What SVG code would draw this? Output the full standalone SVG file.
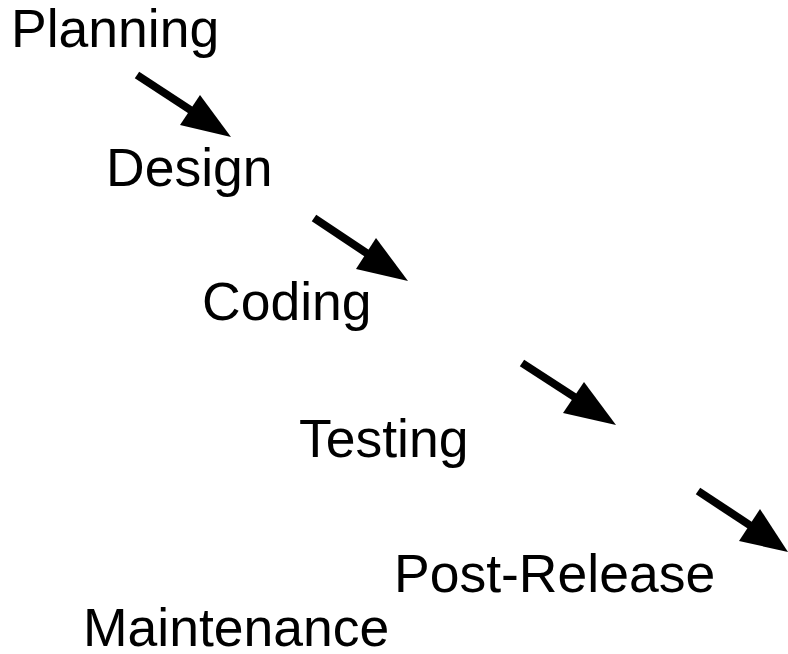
<svg xmlns="http://www.w3.org/2000/svg" width="788" height="654" viewBox="0 0 788 654">
<style>
.t{font-family:"Liberation Sans",Arial,sans-serif;font-size:53.5px;fill:#000}
.c line{stroke:#000;stroke-width:8}
.c polygon{fill:#000}
</style>
<rect width="788" height="654" fill="#fff"/>
<g id="planning"><text class="t" x="11" y="47">Planning</text></g>
<g id="design"><text class="t" x="106" y="186">Design</text></g>
<g id="coding"><text class="t" x="202" y="320">Coding</text></g>
<g id="testing"><text class="t" x="299" y="457">Testing</text></g>
<g id="post-release"><text class="t" x="394" y="592">Post-Release</text></g>
<g id="maintenance"><text class="t" x="83" y="646">Maintenance</text></g>
<g class="c" id="connectors">
<line x1="137" y1="75" x2="192" y2="111"/>
<polygon points="231,137 200,95 180,125"/>
<line x1="314" y1="218" x2="368" y2="254"/>
<polygon points="408,281 376,238 356,269"/>
<line x1="522" y1="363" x2="576" y2="398"/>
<polygon points="616,425 584,382 563,413"/>
<line x1="698" y1="491" x2="751" y2="526"/>
<polygon points="788,552 760,509 739,541"/>
</g>
</svg>
